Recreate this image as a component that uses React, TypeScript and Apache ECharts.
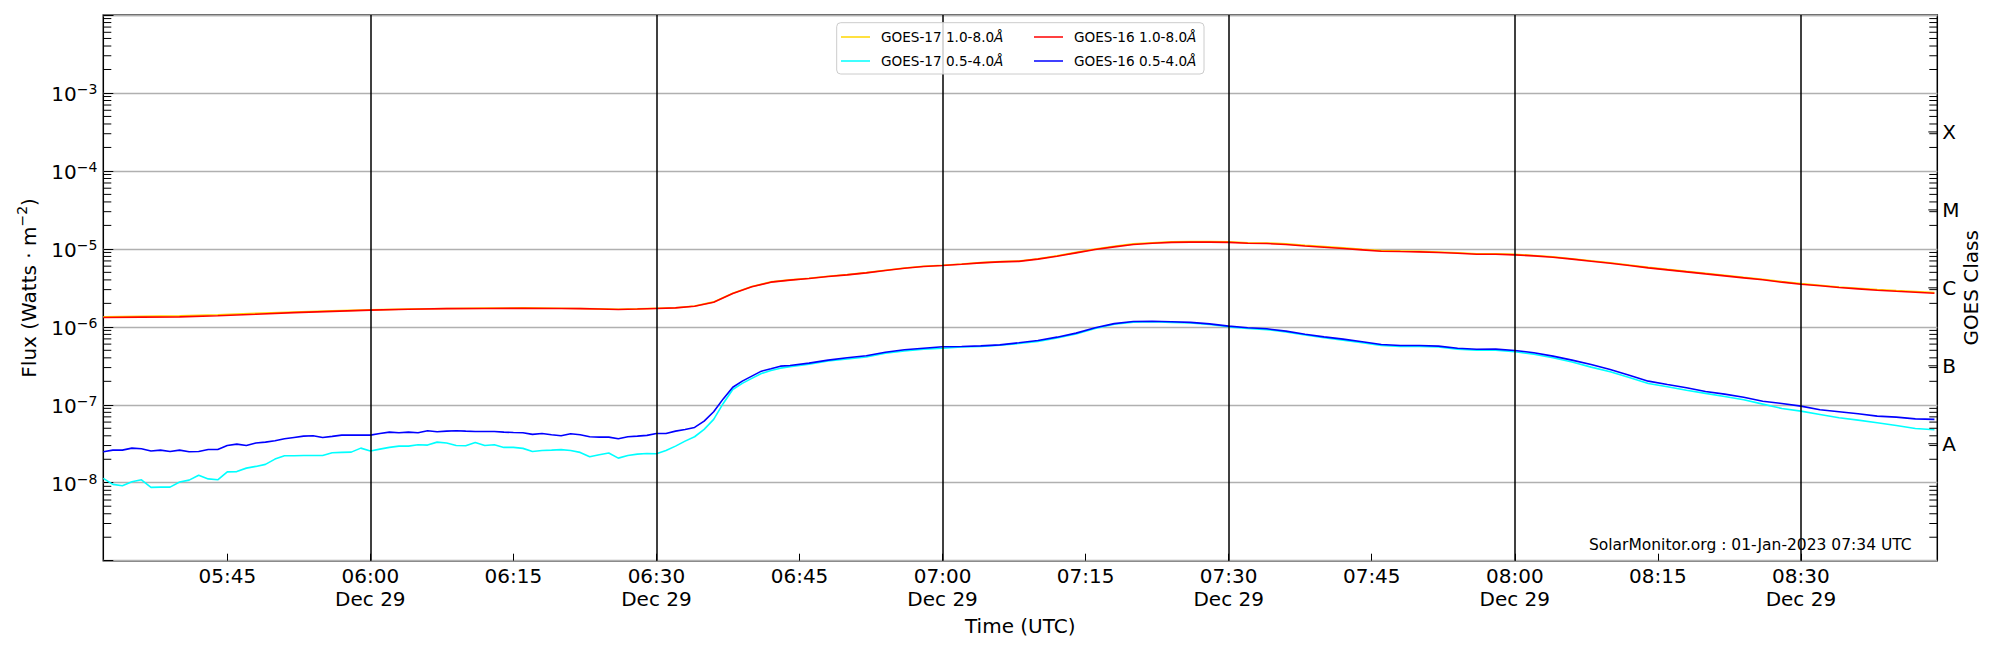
import React, { useEffect, useRef } from "react";
import * as echarts from "echarts";

// Times are minutes after 05:30 UTC on Dec 29
const shortMinutes = [
  2, 3, 4, 5, 6, 7, 8, 9, 10, 11, 12, 13, 14, 15, 16, 17, 18, 19, 20, 21, 22, 23, 24, 25, 26, 27, 28, 29, 30, 31,
  32, 33, 34, 35, 36, 37, 38, 39, 40, 41, 42, 43, 44, 45, 46, 47, 48, 49, 50, 51, 52, 53, 54, 55, 56, 57, 58, 59,
  60, 61, 62, 63, 64, 65, 66, 67, 68, 69, 70, 71, 72, 73, 74,
  76, 78, 80, 82, 84, 86, 88, 90, 92, 94, 96, 98, 100, 102, 104, 106, 108, 110, 112, 114, 116, 118, 120, 122, 124,
  126, 128, 130, 132, 134, 136, 138, 140, 142, 144, 146, 148, 150, 152, 154, 156, 158, 160, 162, 164, 166, 168, 170,
  172, 174, 176, 178, 180, 182, 184, 186, 188, 190, 192, 194,
];

const goes16Short = [
  2.50e-8, 2.62e-8, 2.62e-8, 2.78e-8, 2.73e-8, 2.55e-8, 2.62e-8, 2.52e-8, 2.62e-8, 2.50e-8,
  2.52e-8, 2.67e-8, 2.67e-8, 3.01e-8, 3.13e-8, 3.01e-8, 3.23e-8, 3.32e-8, 3.45e-8, 3.66e-8,
  3.81e-8, 3.96e-8, 4.01e-8, 3.81e-8, 3.93e-8, 4.08e-8, 4.08e-8, 4.08e-8, 4.08e-8, 4.28e-8,
  4.46e-8, 4.37e-8, 4.46e-8, 4.37e-8, 4.64e-8, 4.50e-8, 4.59e-8, 4.64e-8, 4.59e-8, 4.55e-8,
  4.55e-8, 4.55e-8, 4.46e-8, 4.41e-8, 4.37e-8, 4.17e-8, 4.28e-8, 4.13e-8, 4.00e-8, 4.25e-8,
  4.13e-8, 3.89e-8, 3.85e-8, 3.85e-8, 3.66e-8, 3.89e-8, 3.96e-8, 4.05e-8, 4.28e-8, 4.28e-8,
  4.59e-8, 4.83e-8, 5.12e-8, 6.17e-8, 8.13e-8, 1.19e-7, 1.68e-7, 2.01e-7, 2.33e-7, 2.70e-7,
  2.90e-7, 3.13e-7, 3.19e-7,
  3.42e-7, 3.74e-7, 4.01e-7, 4.25e-7, 4.73e-7, 5.07e-7, 5.32e-7, 5.54e-7, 5.60e-7, 5.70e-7,
  5.87e-7, 6.25e-7, 6.68e-7, 7.37e-7, 8.30e-7, 9.71e-7, 1.10e-6, 1.17e-6, 1.18e-6, 1.16e-6,
  1.14e-6, 1.09e-6, 1.02e-6, 9.71e-7, 9.43e-7, 8.80e-7, 8.05e-7, 7.44e-7, 6.95e-7, 6.43e-7,
  5.94e-7, 5.77e-7, 5.77e-7, 5.65e-7, 5.32e-7, 5.15e-7, 5.18e-7, 4.98e-7, 4.65e-7, 4.21e-7,
  3.74e-7, 3.29e-7, 2.84e-7, 2.40e-7, 2.01e-7, 1.82e-7, 1.65e-7, 1.48e-7, 1.37e-7, 1.25e-7,
  1.11e-7, 1.04e-7, 9.61e-8, 8.63e-8, 8.13e-8, 7.67e-8, 7.16e-8, 6.95e-8, 6.60e-8, 6.49e-8,
];

const goes17Short = [
  1.14e-8, 9.53e-9, 9.16e-9, 1.03e-8, 1.09e-8, 8.71e-9, 8.79e-9, 8.79e-9, 1.02e-8, 1.08e-8,
  1.25e-8, 1.12e-8, 1.09e-8, 1.38e-8, 1.39e-8, 1.54e-8, 1.62e-8, 1.72e-8, 2.01e-8, 2.22e-8,
  2.22e-8, 2.24e-8, 2.24e-8, 2.24e-8, 2.43e-8, 2.45e-8, 2.47e-8, 2.78e-8, 2.55e-8, 2.70e-8,
  2.84e-8, 2.95e-8, 2.95e-8, 3.07e-8, 3.04e-8, 3.32e-8, 3.23e-8, 3.01e-8, 2.98e-8, 3.28e-8,
  3.01e-8, 3.07e-8, 2.84e-8, 2.84e-8, 2.76e-8, 2.52e-8, 2.59e-8, 2.62e-8, 2.66e-8, 2.59e-8,
  2.45e-8, 2.15e-8, 2.28e-8, 2.41e-8, 2.07e-8, 2.24e-8, 2.33e-8, 2.37e-8, 2.35e-8, 2.59e-8,
  2.95e-8, 3.42e-8, 3.89e-8, 4.83e-8, 6.49e-8, 1.04e-7, 1.57e-7, 1.88e-7, 2.18e-7, 2.52e-7,
  2.75e-7, 2.95e-7, 3.09e-7,
  3.32e-7, 3.64e-7, 3.87e-7, 4.10e-7, 4.60e-7, 4.90e-7, 5.17e-7, 5.30e-7, 5.50e-7, 5.60e-7,
  5.80e-7, 6.10e-7, 6.50e-7, 7.20e-7, 8.10e-7, 9.50e-7, 1.08e-6, 1.15e-6, 1.16e-6, 1.14e-6,
  1.12e-6, 1.07e-6, 1.00e-6, 9.50e-7, 9.20e-7, 8.60e-7, 7.85e-7, 7.25e-7, 6.75e-7, 6.25e-7,
  5.78e-7, 5.60e-7, 5.60e-7, 5.50e-7, 5.18e-7, 5.02e-7, 5.02e-7, 4.78e-7, 4.46e-7, 4.01e-7,
  3.53e-7, 3.04e-7, 2.65e-7, 2.24e-7, 1.88e-7, 1.70e-7, 1.54e-7, 1.40e-7, 1.28e-7, 1.16e-7,
  1.02e-7, 8.97e-8, 8.30e-8, 7.52e-8, 6.81e-8, 6.35e-8, 5.87e-8, 5.43e-8, 4.97e-8, 4.78e-8,
];

const longMinutes = [
  2, 6, 10, 14, 18, 22, 26, 30, 34, 38, 42, 46, 50,
  52, 54, 56, 58, 60, 62, 64, 66, 68, 70, 72, 74, 76, 78, 80, 82, 84, 86, 88, 90, 92, 94, 96, 98, 100, 102, 104,
  106, 108, 110, 112, 114, 116, 118, 120, 122, 124, 126, 128, 130, 132, 134, 136, 138, 140, 142, 144, 146, 148,
  150, 152, 154, 156, 158, 160, 162, 164, 166, 168, 170, 172, 174, 176, 178, 180, 182, 184, 186, 188, 190, 192, 194,
];

const goes16Long = [
  1.32e-6, 1.33e-6, 1.34e-6, 1.39e-6, 1.45e-6, 1.52e-6, 1.58e-6, 1.64e-6, 1.68e-6, 1.71e-6, 1.72e-6, 1.73e-6, 1.72e-6,
  1.71e-6, 1.69e-6, 1.67e-6, 1.69e-6, 1.72e-6, 1.75e-6, 1.84e-6, 2.07e-6, 2.67e-6, 3.26e-6, 3.74e-6, 3.97e-6,
  4.17e-6, 4.42e-6, 4.64e-6, 4.92e-6, 5.27e-6, 5.65e-6, 5.94e-6, 6.11e-6, 6.35e-6, 6.62e-6, 6.81e-6, 6.92e-6,
  7.38e-6, 8.05e-6, 8.89e-6, 9.81e-6, 1.06e-5, 1.14e-5, 1.18e-5, 1.21e-5, 1.22e-5, 1.22e-5, 1.21e-5, 1.18e-5,
  1.17e-5, 1.14e-5, 1.09e-5, 1.05e-5, 1.01e-5, 9.71e-6, 9.34e-6, 9.24e-6, 9.15e-6, 8.97e-6, 8.80e-6, 8.54e-6,
  8.54e-6, 8.38e-6, 8.13e-6, 7.82e-6, 7.38e-6, 6.95e-6, 6.55e-6, 6.11e-6, 5.70e-6, 5.38e-6, 5.07e-6, 4.78e-6,
  4.51e-6, 4.25e-6, 4.01e-6, 3.74e-6, 3.52e-6, 3.36e-6, 3.19e-6, 3.07e-6, 2.95e-6, 2.86e-6, 2.78e-6, 2.70e-6,
];

const goes17Long = [
  1.34e-6, 1.36e-6, 1.38e-6, 1.43e-6, 1.49e-6, 1.55e-6, 1.60e-6, 1.65e-6, 1.69e-6, 1.72e-6, 1.74e-6, 1.75e-6, 1.73e-6,
  1.72e-6, 1.70e-6, 1.68e-6, 1.70e-6, 1.73e-6, 1.76e-6, 1.85e-6, 2.09e-6, 2.70e-6, 3.29e-6, 3.77e-6, 4.00e-6,
  4.20e-6, 4.45e-6, 4.67e-6, 4.96e-6, 5.31e-6, 5.69e-6, 5.98e-6, 6.16e-6, 6.40e-6, 6.67e-6, 6.86e-6, 6.98e-6,
  7.46e-6, 8.15e-6, 9.01e-6, 9.95e-6, 1.08e-5, 1.16e-5, 1.20e-5, 1.23e-5, 1.24e-5, 1.24e-5, 1.23e-5, 1.20e-5,
  1.19e-5, 1.16e-5, 1.11e-5, 1.07e-5, 1.03e-5, 9.88e-6, 9.50e-6, 9.38e-6, 9.28e-6, 9.10e-6, 8.93e-6, 8.66e-6,
  8.65e-6, 8.49e-6, 8.24e-6, 7.93e-6, 7.48e-6, 7.05e-6, 6.65e-6, 6.20e-6, 5.79e-6, 5.46e-6, 5.15e-6, 4.86e-6,
  4.58e-6, 4.32e-6, 4.08e-6, 3.80e-6, 3.58e-6, 3.42e-6, 3.25e-6, 3.13e-6, 3.01e-6, 2.92e-6, 2.84e-6, 2.76e-6,
];

const xMin = 2; // 05:32
const xMax = 194.3; // ~08:44
const xTickMinutes = [15, 30, 45, 60, 75, 90, 105, 120, 135, 150, 165, 180];
const vLineMinutes = [30, 60, 90, 120, 150, 180];
const dateLabel = "Dec 29";
const classLabels = ["A", "B", "C", "M", "X"];
const classExponents = [-7.5, -6.5, -5.5, -4.5, -3.5];
const minorMantissas = [2, 3, 4, 5, 6, 7, 8, 9];
const minorDecades = [-9, -8, -7, -6, -5, -4, -3];
const seriesNames = {
  g17Long: "GOES-17 1.0-8.0Å",
  g16Long: "GOES-16 1.0-8.0Å",
  g17Short: "GOES-17 0.5-4.0Å",
  g16Short: "GOES-16 0.5-4.0Å",
};
const footer = "SolarMonitor.org : 01-Jan-2023 07:34 UTC";

const FONT = "DejaVu Sans";

function pad(n: number) {
  return (n < 10 ? "0" : "") + n;
}

function zip(t: number[], v: number[]) {
  return t.map((x, i) => [x, v[i]]);
}

export default function App() {
  const ref = useRef<HTMLDivElement>(null);

  useEffect(() => {
    if (!ref.current) return;
    const chart = echarts.init(ref.current, undefined, { renderer: "svg" });

    const minorTicks: number[][] = [];
    minorDecades.forEach((e) =>
      minorMantissas.forEach((m) => minorTicks.push([xMin + 1, m * Math.pow(10, e)]))
    );
    const classData = classExponents.map((e, i) => [xMin + 1, Math.pow(10, e), i]);

    const lineSeries = (name: string, data: number[][], color: string, z: number, extra: any = {}) => ({
      type: "line",
      name,
      data,
      showSymbol: false,
      symbol: "none",
      lineStyle: { color, width: 1.6 },
      itemStyle: { color },
      z,
      ...extra,
    });

    const option: any = {
      animation: false,
      textStyle: { fontFamily: FONT },
      grid: {
        left: 103.3,
        top: 15,
        right: 62.7,
        bottom: 89.3,
        show: true,
        borderColor: "#000",
        borderWidth: 1.5,
        backgroundColor: "transparent",
      },
      xAxis: {
        type: "value",
        min: xMin,
        max: xMax,
        name: "Time (UTC)",
        nameLocation: "middle",
        nameGap: 52,
        nameTextStyle: { fontSize: 20, color: "#000", fontFamily: FONT },
        axisLine: { show: false },
        splitLine: { show: false },
        axisTick: {
          show: true,
          inside: true,
          length: 7,
          customValues: xTickMinutes,
          lineStyle: { color: "#000", width: 1 },
        },
        axisLabel: {
          customValues: xTickMinutes,
          fontSize: 20,
          color: "#000",
          fontFamily: FONT,
          margin: 4,
          lineHeight: 23,
          formatter: (v: number) => {
            const total = 330 + Math.round(v);
            const hh = Math.floor(total / 60);
            const mm = total % 60;
            const s = pad(hh) + ":" + pad(mm);
            return mm % 30 === 0 ? s + "\n" + dateLabel : s;
          },
        },
      },
      yAxis: [
        {
          type: "log",
          logBase: 10,
          min: 1e-9,
          max: 1e-2,
          splitNumber: 7,
          name: "{t|Flux (Watts · m}{s|−2}{t|)}",
          nameLocation: "middle",
          nameGap: 64,
          nameRotate: 90,
          nameTextStyle: {
            color: "#000",
            rich: {
              t: { fontSize: 20, fontFamily: FONT, color: "#000", lineHeight: 24, verticalAlign: "bottom" },
              s: { fontSize: 14, fontFamily: FONT, color: "#000", lineHeight: 14, verticalAlign: "top" },
            },
          },
          axisLine: { show: false },
          splitLine: { show: true, lineStyle: { color: "#b0b0b0", width: 1.3 } },
          axisTick: { show: true, inside: true, length: 10, lineStyle: { color: "#000", width: 1 } },
          axisLabel: {
            margin: 6,
            color: "#000",
            formatter: (v: number) => {
              const e = Math.round(Math.log10(v));
              if (e < -8 || e > -3) return "";
              return "{b|10}{s|−" + -e + "}";
            },
            rich: {
              b: { fontSize: 20, fontFamily: FONT, color: "#000", lineHeight: 22, verticalAlign: "bottom" },
              s: { fontSize: 14, fontFamily: FONT, color: "#000", lineHeight: 14, verticalAlign: "top" },
            },
          },
        },
        {
          type: "value",
          position: "right",
          min: -9,
          max: -2,
          interval: 1,
          name: "GOES Class",
          nameLocation: "middle",
          nameGap: 24,
          nameRotate: 90,
          nameTextStyle: { fontSize: 20, color: "#000", fontFamily: FONT },
          axisLine: { show: false },
          splitLine: { show: false },
          axisTick: { show: false },
          axisLabel: { show: false },
        },
      ],
      legend: {
        left: 841,
        top: 29,
        width: 380,
        orient: "horizontal",
        padding: 0,
        itemGap: 8,
        itemWidth: 29,
        itemHeight: 1.5,
        icon: "rect",
        z: 20,
        data: [seriesNames.g17Long, seriesNames.g16Long, seriesNames.g17Short, seriesNames.g16Short],
        formatter: (name: string) => "{n|" + name.slice(0, -1) + "}{i|Å}",
        textStyle: {
          width: 145,
          padding: [0, 0, 0, 6],
          lineHeight: 16,
          rich: {
            n: { fontSize: 13.6, fontFamily: FONT, color: "#000", lineHeight: 16 },
            i: { fontSize: 13.6, fontFamily: FONT, color: "#000", fontStyle: "italic", lineHeight: 16 },
          },
        },
      },
      graphic: [
        {
          type: "rect",
          z: 10,
          shape: { x: 836.7, y: 22.7, width: 367.3, height: 51.3, r: 4 },
          style: { fill: "rgba(255,255,255,0.8)", stroke: "#cccccc", lineWidth: 1 },
        },
        {
          type: "text",
          z: 10,
          x: 1911.7,
          y: 553,
          style: {
            text: footer,
            fill: "#000",
            font: "15.5px " + FONT,
            textAlign: "right",
            textVerticalAlign: "bottom",
          },
        },
      ],
      series: [
        lineSeries(seriesNames.g17Long, zip(longMinutes, goes17Long), "#ffd700", 2),
        lineSeries(seriesNames.g17Short, zip(shortMinutes, goes17Short), "#00ffff", 2),
        lineSeries(seriesNames.g16Long, zip(longMinutes, goes16Long), "#ff0000", 2),
        lineSeries(seriesNames.g16Short, zip(shortMinutes, goes16Short), "#0000ff", 2, {
          markLine: {
            silent: true,
            symbol: "none",
            label: { show: false },
            lineStyle: { color: "#000", width: 1.5, type: "solid" },
            data: vLineMinutes.map((m) => ({ xAxis: m })),
          },
        }),
        {
          type: "custom",
          name: "minorTicks",
          silent: true,
          clip: false,
          z: 5,
          data: minorTicks,
          encode: { x: 0, y: 1 },
          renderItem: (params: any, api: any) => {
            const pt = api.coord([api.value(0), api.value(1)]);
            const cs = params.coordSys;
            const y = pt[1];
            return {
              type: "group",
              children: [
                { type: "line", shape: { x1: cs.x, y1: y, x2: cs.x + 8, y2: y }, style: { stroke: "#000", lineWidth: 1 } },
                {
                  type: "line",
                  shape: { x1: cs.x + cs.width - 8, y1: y, x2: cs.x + cs.width, y2: y },
                  style: { stroke: "#000", lineWidth: 1 },
                },
              ],
            };
          },
        },
        {
          type: "custom",
          name: "goesClass",
          silent: true,
          clip: false,
          z: 5,
          data: classData,
          encode: { x: 0, y: 1 },
          renderItem: (params: any, api: any) => {
            const pt = api.coord([api.value(0), api.value(1)]);
            const cs = params.coordSys;
            const y = pt[1];
            const label = classLabels[api.value(2)];
            const xr = cs.x + cs.width;
            return {
              type: "group",
              children: [
                { type: "line", shape: { x1: xr - 9, y1: y, x2: xr, y2: y }, style: { stroke: "#000", lineWidth: 1 } },
                {
                  type: "text",
                  x: xr + 5,
                  y,
                  style: {
                    text: label,
                    fill: "#000",
                    font: "20px " + FONT,
                    textAlign: "left",
                    textVerticalAlign: "middle",
                  },
                },
              ],
            };
          },
        },
      ],
    };

    chart.setOption(option);
    return () => chart.dispose();
  }, []);

  return (
    <div
      ref={ref}
      style={{ position: "fixed", left: 0, top: 0, width: 2000, height: 650, background: "#fff" }}
    />
  );
}
